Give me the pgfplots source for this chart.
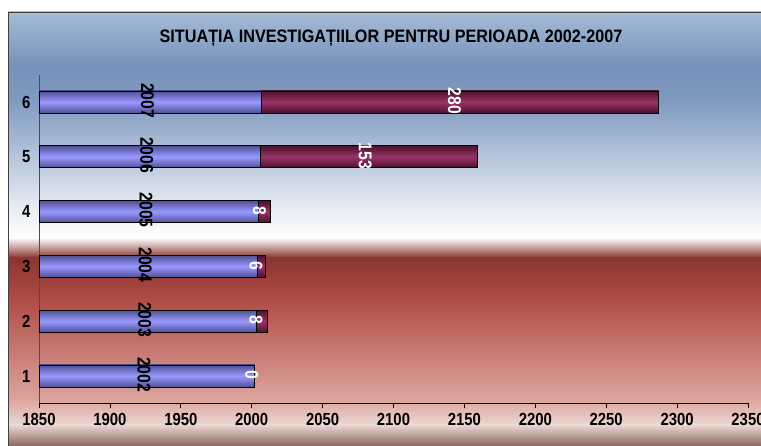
\documentclass[border=0pt]{standalone}
\usepackage{fontspec}
\setmainfont{Liberation Sans}
\newfontfamily\nar[FakeStretch=0.85]{Liberation Sans}
\newfontfamily\tnar[FakeStretch=0.9]{Liberation Sans}
\usepackage{pgfplots}
\pgfplotsset{compat=1.18}
\definecolor{bbE}{RGB}{80,80,150}
\definecolor{bbC}{RGB}{153,153,255}
\definecolor{mmE}{RGB}{75,18,45}
\definecolor{mmC}{RGB}{153,51,102}
\pgfplotsset{
  bluebar/.style={xbar, bar width=22pt, bar shift=0pt, draw=black, line width=0.8pt,
    top color=bbE, bottom color=bbE, middle color=bbC},
  redbar/.style={xbar, bar width=22pt, bar shift=0pt, draw=black, line width=0.8pt,
    top color=mmE, bottom color=mmE, middle color=mmC},
}
\begin{document}
\begin{tikzpicture}
\useasboundingbox (0,0) rectangle (761pt,446pt);
\fill[white] (0,0) rectangle (761pt,446pt);
% background gradient (image y -> 446-y)
\shade[top color={rgb,255:red,165;green,189;blue,214}, bottom color={rgb,255:red,120;green,145;blue,186}] (8pt,434pt) rectangle (761pt,381pt);
\shade[top color={rgb,255:red,120;green,145;blue,186}, bottom color={rgb,255:red,127;green,153;blue,192}] (8pt,381.5pt) rectangle (761pt,346pt);
\shade[top color={rgb,255:red,127;green,153;blue,192}, bottom color={rgb,255:red,223;green,231;blue,239}] (8pt,346.5pt) rectangle (761pt,246pt);
\shade[top color={rgb,255:red,223;green,231;blue,239}, bottom color=white] (8pt,246.5pt) rectangle (761pt,208pt);
\shade[top color=white, bottom color={rgb,255:red,138;green,53;blue,48}] (8pt,208.5pt) rectangle (761pt,188pt);
\shade[top color={rgb,255:red,138;green,53;blue,48}, bottom color={rgb,255:red,176;green,76;blue,70}] (8pt,188.5pt) rectangle (761pt,146pt);
\shade[top color={rgb,255:red,176;green,76;blue,70}, bottom color={rgb,255:red,220;green,165;blue,157}] (8pt,146.5pt) rectangle (761pt,46pt);
\shade[top color={rgb,255:red,220;green,165;blue,157}, bottom color={rgb,255:red,236;green,216;blue,210}] (8pt,46.5pt) rectangle (761pt,21pt);
\shade[top color={rgb,255:red,236;green,216;blue,210}, bottom color={rgb,255:red,138;green,104;blue,96}] (8pt,21.5pt) rectangle (761pt,0pt);
\draw[black!75, line width=1.5pt] (8.5pt,0pt) -- (8.5pt,433.5pt) -- (761pt,433.5pt);
\node[font=\tnar\bfseries\fontsize{18}{20}\selectfont] at (391pt,408pt) {SITUAȚIA INVESTIGAȚIILOR PENTRU PERIOADA 2002-2007};
\begin{axis}[
  at={(39pt,42.6pt)}, anchor=south west,
  scale only axis, width=709pt, height=328.8pt,
  xmin=1850, xmax=2350, ymin=0.5, ymax=6.5,
  xtick={1850,1900,...,2350}, ytick={1,2,3,4,5,6},
  axis x line*=bottom, axis y line*=left,
  axis line style={-},
  x axis line style={black, line width=0.9pt},
  y axis line style={black!70, line width=0.8pt},
  tick align=outside, major tick length=5pt,
  xtick style={black, line width=0.8pt},
  ytick style={draw=none},
  /pgf/number format/assume math mode=true,
  /pgf/number format/1000 sep={},
  ticklabel style={font=\nar\bfseries\fontsize{17.5}{19}\selectfont},
  xticklabel style={yshift=-1pt},
  yticklabel style={xshift=0pt},
  clip=true,
]
% totals (year + count), drawn under the year bars
\addplot[redbar] coordinates {(2002,1)};
\addplot[redbar] coordinates {(2011,2)};
\addplot[redbar] coordinates {(2010,3)};
\addplot[redbar] coordinates {(2013,4)};
\addplot[redbar] coordinates {(2159,5)};
\addplot[redbar] coordinates {(2287,6)};
% years
\addplot[bluebar] coordinates {(2002,1)};
\addplot[bluebar] coordinates {(2003,2)};
\addplot[bluebar] coordinates {(2004,3)};
\addplot[bluebar] coordinates {(2005,4)};
\addplot[bluebar] coordinates {(2006,5)};
\addplot[bluebar] coordinates {(2007,6)};
\addplot[only marks, mark=none, nodes near coords, point meta=explicit symbolic,
  nodes near coords style={anchor=center, yshift=1.5pt, rotate=-90, black, inner sep=0pt,
    font=\nar\bfseries\fontsize{18.5}{20}\selectfont}]
  coordinates {(1924,1) [2002] (1924.5,2) [2003] (1925,3) [2004] (1925.5,4) [2005] (1926,5) [2006] (1926.5,6) [2007]};
\addplot[only marks, mark=none, nodes near coords, point meta=explicit symbolic,
  nodes near coords style={anchor=center, yshift=1pt, rotate=-90, white, inner sep=0pt,
    font=\nar\bfseries\fontsize{18.5}{20}\selectfont}]
  coordinates {(2000,1) [0] (2003,2) [8] (2003,3) [6] (2005.5,4) [8] (2080,5) [153] (2143,6) [280]};
\end{axis}
\end{tikzpicture}
\end{document}
